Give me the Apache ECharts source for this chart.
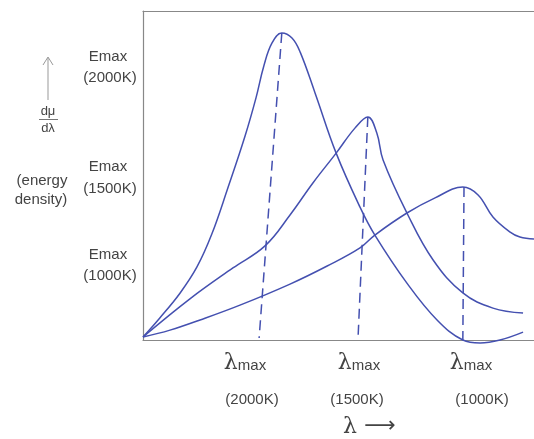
<!DOCTYPE html>
<html>
<head>
<meta charset="utf-8">
<script src="https://cdn.jsdelivr.net/npm/echarts@6/dist/echarts.min.js"></script>
<style>
html,body{margin:0;padding:0;background:#fff;}
#c{width:534px;height:439px;}
</style>
</head>
<body>
<div id="c"></div>
<script>
// wavelength (arbitrary units 0..100) and energy density (arbitrary units)
const curve2000K = [[0,0.9],[4.3,6.7],[9.5,14.3],[13.8,22.2],[17.6,32.2],[21.7,46.2],[26.1,62.0],[28.9,73.6],[30.9,83.3],[33.0,90.3],[35.5,93.3],[38.1,91.8],[40.2,87.5],[44.0,75.1],[49.4,56.8],[55.5,40.4],[59.3,31.9],[67.5,17.3],[75.2,6.1],[81.8,0],[86.2,-0.9],[91.3,0],[97.2,2.4]];
const curve1500K = [[0,0.9],[12.0,12.5],[23.0,21.9],[31.2,28.6],[37.6,38.0],[43.5,47.8],[49.4,56.8],[54.2,64.4],[57.5,67.8],[59.8,62.9],[61.4,54.7],[67.5,38.6],[74.2,24.3],[81.8,14.3],[89.5,9.7],[97.2,8.2]];
const curve1000K = [[0,0.9],[6.9,3.0],[14.6,6.1],[24.8,10.6],[37.6,17.0],[47.1,22.5],[55.5,28.0],[59.3,31.9],[67.5,38.6],[74.7,43.2],[81.8,46.5],[85.7,44.1],[89.5,37.4],[93.9,32.8],[96.4,31.3],[100,30.7]];
const dropLine2000K = [[35.5,93.3],[29.7,0.6]];
const dropLine1500K = [[57.5,67.8],[55.0,0.6]];
const dropLine1000K = [[82.1,46.5],[81.8,0]];
const emaxLabels = ['(2000K)','(1500K)','(1000K)'];
const lambdaLabels = ['(2000K)','(1500K)','(1000K)'];

const chart = echarts.init(document.getElementById('c'));
const blue = '#4450b0';
const txt = '#444';
const sans = 'Liberation Sans, Arial, sans-serif';
const serif = 'DejaVu Serif, Liberation Serif, serif';

function curve(data){
  return {type:'line', data, smooth:0.4, symbol:'none', clip:false, lineStyle:{color:blue, width:1.5}, silent:true, z:3};
}
function drop(data){
  return {type:'line', data, symbol:'none', clip:false, lineStyle:{color:blue, width:1.5, type:[10,6]}, silent:true, z:2};
}
function t(text, x, y, size){
  return {type:'text', silent:true, style:{text, x, y, font:size+'px '+sans, fill:txt, align:'center', verticalAlign:'middle'}};
}
function lam(x, y){
  return {type:'text', silent:true, style:{text:'{l|λ}{m|max}', x, y, align:'center', verticalAlign:'middle', fill:txt,
    rich:{l:{fontFamily:serif, fontSize:22, fill:txt, verticalAlign:'bottom'}, m:{fontFamily:sans, fontSize:15, fill:txt, verticalAlign:'bottom', padding:[0,0,1,0]}}}};
}

chart.setOption({
  animation:false,
  backgroundColor:'#fff',
  grid:{left:143, right:0, top:11, bottom:99},
  xAxis:[
    {type:'value', min:0, max:100, axisLine:{show:true, onZero:true, lineStyle:{color:'#888', width:1.2}}, axisTick:{show:false}, axisLabel:{show:false}, splitLine:{show:false}},
    {type:'value', position:'top', min:0, max:100, axisLine:{show:true, onZero:false, lineStyle:{color:'#888', width:1.2}}, axisTick:{show:false}, axisLabel:{show:false}, splitLine:{show:false}}
  ],
  yAxis:{type:'value', min:0, max:100, axisLine:{show:true, lineStyle:{color:'#888', width:1.2}}, axisTick:{show:false}, axisLabel:{show:false}, splitLine:{show:false}},
  series:[
    curve(curve2000K), curve(curve1500K), curve(curve1000K),
    drop(dropLine2000K), drop(dropLine1500K), drop(dropLine1000K)
  ],
  graphic:[
    t('Emax',108,57,15), t(emaxLabels[0],110,78,15),
    t('Emax',108,167,15), t(emaxLabels[1],110,189,15),
    t('Emax',108,255,15), t(emaxLabels[2],110,276,15),
    t('(energy',42,181,15), t('density)',41,200,15),
    {type:'line', silent:true, shape:{x1:48,y1:58,x2:48,y2:100}, style:{stroke:'#999', lineWidth:1}},
    {type:'polyline', silent:true, shape:{points:[[43,65],[48,57],[53,65]]}, style:{stroke:'#999', lineWidth:1, fill:null}},
    t('dμ',48,111,13), {type:'line', silent:true, shape:{x1:39,y1:119.5,x2:58,y2:119.5}, style:{stroke:'#777', lineWidth:1}}, t('dλ',48,128,13),
    lam(245,363), t(lambdaLabels[0],252,400,15),
    lam(359,363), t(lambdaLabels[1],357,400,15),
    lam(471,363), t(lambdaLabels[2],482,400,15),
    {type:'text', silent:true, style:{text:'λ', x:350, y:427, font:'22px '+serif, fill:txt, align:'center', verticalAlign:'middle'}},
    {type:'text', silent:true, style:{text:'⟶', x:380, y:426, font:'22px DejaVu Sans, sans-serif', fill:txt, align:'center', verticalAlign:'middle'}}
  ]
});
</script>
</body>
</html>
